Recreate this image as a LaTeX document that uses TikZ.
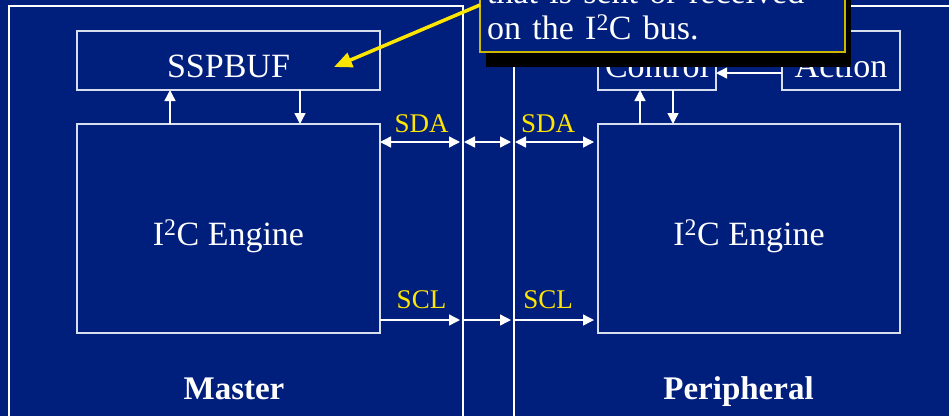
\documentclass[tikz,border=0pt]{standalone}
\usepackage{fontspec}
\setmainfont{Liberation Serif}
\usetikzlibrary{arrows.meta,calc,shadows}

\definecolor{slide}{RGB}{0,30,124}
\definecolor{boxline}{RGB}{215,222,238}
\definecolor{callyellow}{RGB}{255,230,0}

\begin{document}
\begin{tikzpicture}[
  x=1pt, y=-1pt,
  panel/.style={rectangle, draw=white, line width=2.5pt, outer sep=0pt},
  block/.style={rectangle, draw=boxline, line width=1.4pt, text=white, font=\fontsize{34}{36}\selectfont, text height=33pt, text depth=0pt, outer sep=0pt},
  sig/.style={draw=white, line width=1.4pt, -{Triangle[length=11pt,width=11pt]}},
  dbus/.style={draw=white, line width=1.4pt, {Triangle[length=11pt,width=11pt]}-{Triangle[length=11pt,width=11pt]}},
  buslabel/.style={text=callyellow, font=\fontsize{27}{30}\selectfont},
  title/.style={text=white, font=\fontsize{33}{36}\selectfont\bfseries},
  note/.style={rectangle, draw=callyellow!80!black, line width=1.5pt, fill=slide, text=white, font=\fontsize{34}{36}\selectfont, align=left, text width=351pt, inner xsep=7pt, inner ysep=12pt, outer sep=0pt, drop shadow={shadow xshift=6pt, shadow yshift=-15pt, fill=black, opacity=1, fill opacity=1}},
  pointer/.style={draw=callyellow, line width=3.5pt, -{Triangle[length=18pt,width=15pt]}}
]
\useasboundingbox (0,0) rectangle (949,416);
\clip (0,0) rectangle (949,416);
\fill[slide] (0,0) rectangle (949,416);

% the two sides
\node[panel, minimum width=454pt, minimum height=440pt, anchor=north west] (mPanel) at (9,6) {};
\node[panel, minimum width=460pt, minimum height=440pt, anchor=north west] (pPanel) at (514,6) {};
\node[title, anchor=base] (mTitle) at (234,399) {Master};
\node[title, anchor=base] (pTitle) at (738.5,399) {Peripheral};

% blocks
\node[block, minimum width=303pt, minimum height=59pt] (buf) at (228.5,60.5) {SSPBUF};
\node[block, minimum width=303pt, minimum height=209pt] (engM) at (228.5,228.5) {I\textsuperscript{2}C Engine};
\node[block, minimum width=118pt, minimum height=59pt] (ctrl) at (657,60.5) {Control};
\node[block, minimum width=118pt, minimum height=59pt] (act) at (841,60.5) {Action};
\node[block, minimum width=302pt, minimum height=209pt] (engP) at (749,228.5) {I\textsuperscript{2}C Engine};

\coordinate (sdaRow) at (0,142);
\coordinate (sclRow) at (0,320);

% inside each side
\draw[sig] ([xshift=-58.5pt]engM.north) -- ([xshift=-58.5pt]buf.south);
\draw[sig] ([xshift=71.5pt]buf.south) -- ([xshift=71.5pt]engM.north);
\draw[sig] ([xshift=-17pt]ctrl.south |- engP.north) -- ([xshift=-17pt]ctrl.south);
\draw[sig] ([xshift=16pt]ctrl.south) -- ([xshift=16pt]ctrl.south |- engP.north);
\draw[sig] ([yshift=-12.5pt]act.west) -- ([yshift=-12.5pt]act.west -| ctrl.east);

% the bus
\draw[dbus, shorten >=3pt] (engM.east |- sdaRow) -- node[buslabel, above=5pt] (sdaM) {SDA} (mPanel.east |- sdaRow);
\draw[dbus, shorten <=1pt, shorten >=3pt] (mPanel.east |- sdaRow) -- (pPanel.west |- sdaRow);
\draw[dbus, shorten <=1pt, shorten >=4pt] (pPanel.west |- sdaRow) -- node[buslabel, above=5pt, xshift=-8pt] (sdaP) {SDA} (engP.west |- sdaRow);
\draw[sig, shorten >=3pt] (engM.east |- sclRow) -- node[buslabel, above=7pt] (sclM) {SCL} (mPanel.east |- sclRow);
\draw[sig, shorten <=1pt, shorten >=3pt] (mPanel.east |- sclRow) -- (pPanel.west |- sclRow);
\draw[sig, shorten <=1pt, shorten >=4pt] (pPanel.west |- sclRow) -- node[buslabel, above=7pt, xshift=-8pt] (sclP) {SCL} (engP.west |- sclRow);

% callout
\node[note, anchor=south west] (note) at (480,52) {that is sent or received\\on the I\textsuperscript{2}C bus.};
\draw[pointer] ([yshift=5pt]note.west) -- ([xshift=105.5pt,yshift=-6.5pt]buf.center);
\end{tikzpicture}
\end{document}
